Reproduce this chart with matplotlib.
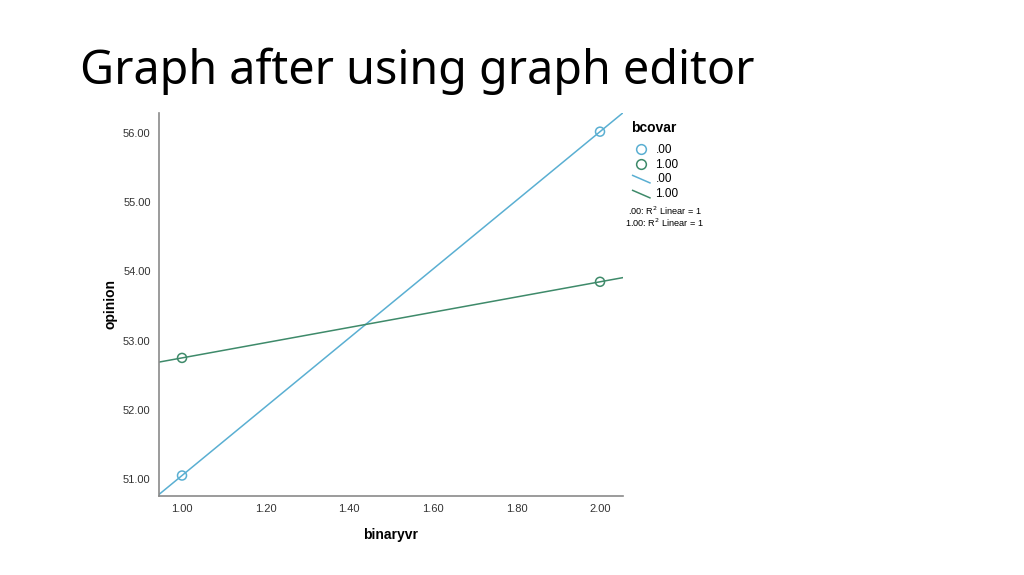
import numpy as np
import matplotlib
matplotlib.use('Agg')
import matplotlib.pyplot as plt
from matplotlib.lines import Line2D
from matplotlib.legend_handler import HandlerBase

# data
groups = ['.00', '1.00']
binaryvr = [1.0, 2.0]
opinion_00 = [51.05, 56.02]
opinion_10 = [52.75, 53.85]
colors = ['#5AAFD2', '#3E8A6A']

x_ticks = [1.0, 1.2, 1.4, 1.6, 1.8, 2.0]
y_ticks = [51, 52, 53, 54, 55, 56]
fit_notes = ['.00: R$^2$ Linear = 1', '1.00: R$^2$ Linear = 1']


class SlantHandler(HandlerBase):
    """Legend line drawn as a short diagonal, like SPSS fit lines"""
    def create_artists(self, legend, orig_handle, xdescent, ydescent,
                       width, height, fontsize, trans):
        ln = Line2D([xdescent + 1, xdescent + width - 1],
                    [ydescent + height, ydescent],
                    color=orig_handle.get_color(), lw=1.1, transform=trans)
        return [ln]


fig = plt.figure(figsize=(10.24, 5.75), dpi=100)
fig.text(0.078, 0.876, 'Graph after using graph editor', fontsize=33.6,
         family='Noto Sans', ha='left', va='center')

ax = fig.add_axes([0.1553, 0.1374, 0.4531, 0.6661])

series = [opinion_00, opinion_10]
for ys, c in zip(series, colors):
    ax.axline((binaryvr[0], ys[0]), (binaryvr[1], ys[1]), color=c, lw=1.1, zorder=2)
    ax.scatter(binaryvr, ys, s=42, facecolors='none', edgecolors=c, linewidths=1.1, zorder=3)

ax.set_xlim(0.945, 2.055)
ax.set_ylim(50.754, 56.29)
ax.set_xticks(x_ticks)
ax.set_xticklabels([f'{v:.2f}' for v in x_ticks])
ax.set_yticks(y_ticks)
ax.set_yticklabels([f'{v:.2f}' for v in y_ticks])
ax.tick_params(length=0, labelsize=8, colors='#333333', pad=6)
for lab in ax.get_xticklabels() + ax.get_yticklabels():
    lab.set_family('Liberation Sans')
for s in ['top', 'right']:
    ax.spines[s].set_visible(False)
for s in ['left', 'bottom']:
    ax.spines[s].set_color('#8a8a8a')
    ax.spines[s].set_linewidth(1.2)

ax.set_xlabel('binaryvr', fontsize=10, fontweight='bold', family='Liberation Sans', labelpad=10)
ax.set_ylabel('opinion', fontsize=10, fontweight='bold', family='Liberation Sans', labelpad=4)

handles = [Line2D([], [], marker='o', ls='none', mfc='none', mec=c, ms=7, mew=1.1) for c in colors]
handles += [Line2D([], [], color=c) for c in colors]
labels = groups + groups
leg = ax.legend(handles, labels, title='bcovar', loc='upper left', bbox_to_anchor=(1.0, 1.0),
                frameon=False, handlelength=1.7, handleheight=0.6, handletextpad=0.35,
                labelspacing=0.25, borderaxespad=0.3,
                handler_map={handles[2]: SlantHandler(), handles[3]: SlantHandler()},
                prop={'family': 'Liberation Sans', 'size': 8.5})
leg.get_title().set_fontweight('bold')
leg.get_title().set_fontsize(10)
leg.get_title().set_family('Liberation Sans')
leg._legend_box.align = 'left'
leg._legend_box.sep = 6

for i, note in enumerate(fit_notes):
    fig.text(0.649, 0.634 - i * 0.0215, note, fontsize=6.6,
             family='Liberation Sans', ha='center', va='center')

fig.savefig('out.png', dpi=100)
